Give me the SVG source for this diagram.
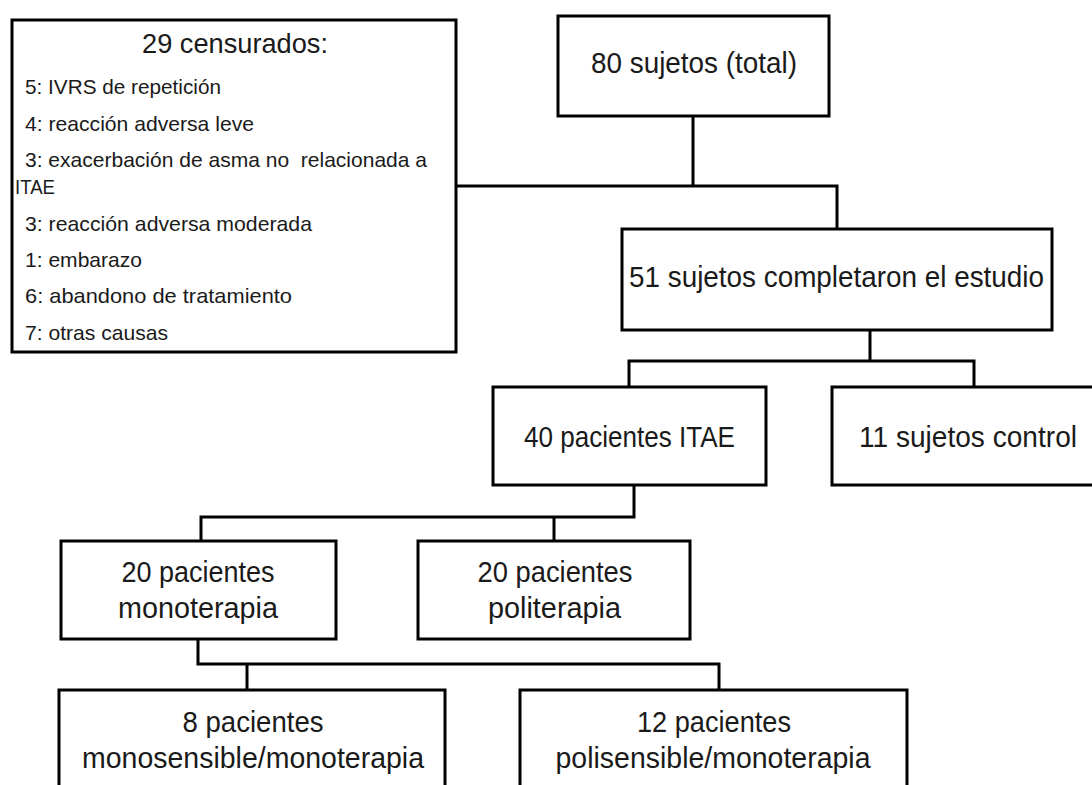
<svg xmlns="http://www.w3.org/2000/svg" width="1092" height="785" viewBox="0 0 1092 785">
<style>
.box{fill:#fff;stroke:#000;stroke-width:3}
.con{fill:none;stroke:#000;stroke-width:3}
text{font-family:"Liberation Sans",Arial,sans-serif;fill:#1a1a1a}
.big{font-size:29px;text-anchor:middle}
.item{font-size:21px}
</style>
<rect width="1092" height="785" fill="#fff"/>
<g id="connectors">
<path class="con" d="M693 116V186M456 186H837V229"/>
<path class="con" d="M870 330V361M629 387V361H974V387"/>
<path class="con" d="M634 485V517H201V541M554 517V541"/>
<path class="con" d="M198 639V664H719V690M247 664V690"/>
</g>
<g id="censurados">
<rect class="box" x="12" y="20" width="444" height="332"/>
<text x="235" y="53" font-size="28" text-anchor="middle" textLength="186" lengthAdjust="spacingAndGlyphs">29 censurados:</text>
<text class="item" x="25" y="94" textLength="196" lengthAdjust="spacingAndGlyphs">5: IVRS de repetición</text>
<text class="item" x="25" y="131" textLength="229" lengthAdjust="spacingAndGlyphs">4: reacción adversa leve</text>
<text class="item" x="25" y="167" textLength="402" lengthAdjust="spacingAndGlyphs">3: exacerbación de asma no&#160; relacionada a</text>
<text class="item" x="15" y="194" textLength="40" lengthAdjust="spacingAndGlyphs">ITAE</text>
<text class="item" x="25" y="231" textLength="287" lengthAdjust="spacingAndGlyphs">3: reacción adversa moderada</text>
<text class="item" x="25" y="267" textLength="117" lengthAdjust="spacingAndGlyphs">1: embarazo</text>
<text class="item" x="25" y="303" textLength="267" lengthAdjust="spacingAndGlyphs">6: abandono de tratamiento</text>
<text class="item" x="25" y="340" textLength="143" lengthAdjust="spacingAndGlyphs">7: otras causas</text>
</g>
<g id="total">
<rect class="box" x="558" y="16" width="271" height="100"/>
<text class="big" x="694" y="73" textLength="206" lengthAdjust="spacingAndGlyphs">80 sujetos (total)</text>
</g>
<g id="completaron">
<rect class="box" x="622" y="229" width="430" height="101"/>
<text class="big" x="836.5" y="287" textLength="415" lengthAdjust="spacingAndGlyphs">51 sujetos completaron el estudio</text>
</g>
<g id="itae">
<rect class="box" x="493" y="387" width="273" height="98"/>
<text class="big" x="629.5" y="447" textLength="211" lengthAdjust="spacingAndGlyphs">40 pacientes ITAE</text>
</g>
<g id="control">
<rect class="box" x="832" y="387" width="270" height="98"/>
<text class="big" x="968" y="447" textLength="218" lengthAdjust="spacingAndGlyphs">11 sujetos control</text>
</g>
<g id="monoterapia">
<rect class="box" x="61" y="541" width="275" height="98"/>
<text class="big" x="198" y="582" textLength="153" lengthAdjust="spacingAndGlyphs">20 pacientes</text>
<text class="big" x="198" y="618" textLength="160" lengthAdjust="spacingAndGlyphs">monoterapia</text>
</g>
<g id="politerapia">
<rect class="box" x="418" y="541" width="272" height="98"/>
<text class="big" x="555" y="582" textLength="155" lengthAdjust="spacingAndGlyphs">20 pacientes</text>
<text class="big" x="554.5" y="618" textLength="133" lengthAdjust="spacingAndGlyphs">politerapia</text>
</g>
<g id="monosensible">
<rect class="box" x="59" y="690" width="386" height="110"/>
<text class="big" x="253" y="732" textLength="141" lengthAdjust="spacingAndGlyphs">8 pacientes</text>
<text class="big" x="253" y="768" textLength="342" lengthAdjust="spacingAndGlyphs">monosensible/monoterapia</text>
</g>
<g id="polisensible">
<rect class="box" x="520" y="690" width="387" height="110"/>
<text class="big" x="714" y="732" textLength="154" lengthAdjust="spacingAndGlyphs">12 pacientes</text>
<text class="big" x="713" y="768" textLength="315" lengthAdjust="spacingAndGlyphs">polisensible/monoterapia</text>
</g>
</svg>
